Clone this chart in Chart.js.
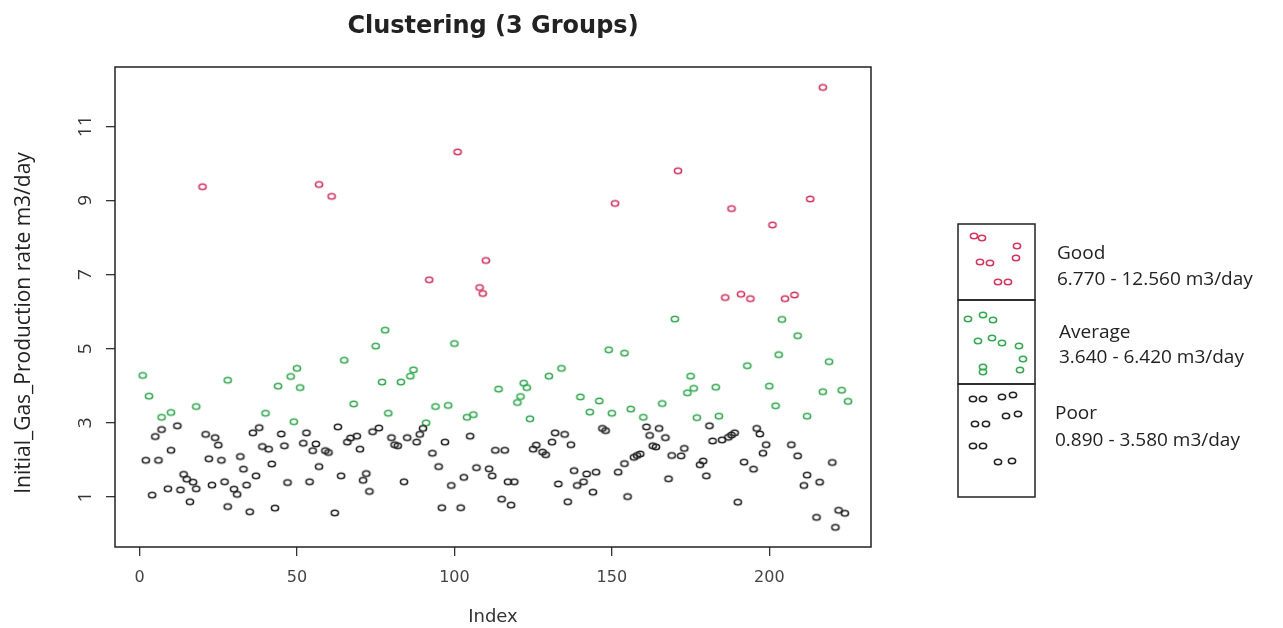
<!DOCTYPE html>
<html lang="en">
<head>
<meta charset="UTF-8">
<title>Clustering (3 Groups)</title>
<script src="https://cdn.jsdelivr.net/npm/chart.js"></script>
<style>
  html, body { margin: 0; padding: 0; background: #fff; }
  #wrap { width: 1283px; height: 628px; }
</style>
</head>
<body>
<div id="wrap"><canvas id="grafico" width="1283" height="628"></canvas></div>
<script>
// index -> Initial_Gas_Production rate, per cluster
const goodIdx = [20, 57, 61, 92, 101, 108, 109, 110, 151, 171, 186, 188, 191, 194, 201, 205, 208, 213, 217];
const goodVal = [9.37, 9.43, 9.11, 6.86, 10.31, 6.65, 6.49, 7.38, 8.92, 9.80, 6.38, 8.78, 6.47, 6.35, 8.34, 6.35, 6.45, 9.04, 12.05];

const avgIdx = [1, 3, 7, 10, 18, 28, 40, 44, 48, 49, 50, 51, 65, 68, 75, 77, 78, 79, 83, 86,
  87, 91, 94, 98, 100, 104, 106, 114, 120, 121, 122, 123, 124, 130, 134, 140, 143, 146, 149, 150,
  154, 156, 160, 166, 170, 174, 175, 176, 177, 183, 184, 193, 200, 202, 203, 204, 209, 212, 217, 219,
  223, 225];
const avgVal = [4.28, 3.72, 3.15, 3.28, 3.44, 4.15, 3.26, 3.99, 4.25, 3.03, 4.47, 3.95, 4.69, 3.51, 5.07, 4.10, 5.50, 3.26, 4.10, 4.26,
  4.43, 3.00, 3.44, 3.47, 5.14, 3.15, 3.22, 3.91, 3.55, 3.71, 4.07, 3.95, 3.11, 4.26, 4.47, 3.70, 3.29, 3.59, 4.97, 3.26,
  4.88, 3.37, 3.15, 3.52, 5.80, 3.81, 4.26, 3.93, 3.14, 3.96, 3.18, 4.54, 3.99, 3.46, 4.84, 5.79, 5.35, 3.18, 3.84, 4.65,
  3.88, 3.58];

const poorIdx = [2, 4, 5, 6, 7, 9, 10, 12, 13, 14, 15, 16, 17, 18, 21, 22, 23, 24, 25, 26,
  27, 28, 30, 31, 32, 33, 34, 35, 36, 37, 38, 39, 41, 42, 43, 45, 46, 47, 52, 53,
  54, 55, 56, 57, 59, 60, 62, 63, 64, 66, 67, 69, 70, 71, 72, 73, 74, 76, 80, 81,
  82, 84, 85, 88, 89, 90, 93, 95, 96, 97, 99, 102, 103, 105, 107, 111, 112, 113, 115, 116,
  117, 118, 119, 125, 126, 128, 129, 131, 132, 133, 135, 136, 137, 138, 139, 141, 142, 144, 145, 147,
  148, 152, 154, 155, 157, 158, 159, 161, 162, 163, 164, 165, 167, 168, 169, 172, 173, 178, 179, 180,
  181, 182, 185, 187, 188, 189, 190, 192, 195, 196, 197, 198, 199, 207, 209, 211, 212, 215, 216, 220,
  221, 222, 224];
const poorVal = [1.99, 1.05, 2.63, 1.99, 2.82, 1.22, 2.26, 2.92, 1.19, 1.61, 1.48, 0.87, 1.40, 1.22, 2.69, 2.03, 1.32, 2.60, 2.40, 1.99,
  1.41, 0.74, 1.21, 1.07, 2.09, 1.75, 1.32, 0.60, 2.73, 1.57, 2.87, 2.36, 2.29, 1.89, 0.70, 2.70, 2.38, 1.39, 2.45, 2.73,
  1.41, 2.25, 2.43, 1.82, 2.25, 2.20, 0.57, 2.89, 1.57, 2.48, 2.59, 2.64, 2.29, 1.45, 1.63, 1.15, 2.76, 2.86, 2.60, 2.41,
  2.38, 1.41, 2.60, 2.48, 2.69, 2.85, 2.18, 1.82, 0.71, 2.48, 1.31, 0.71, 1.53, 2.64, 1.79, 1.76, 1.57, 2.26, 0.94, 2.26,
  1.41, 0.78, 1.41, 2.29, 2.40, 2.21, 2.14, 2.48, 2.73, 1.35, 2.69, 0.87, 2.41, 1.71, 1.31, 1.41, 1.62, 1.13, 1.67, 2.85,
  2.79, 1.67, 1.90, 1.01, 2.07, 2.12, 2.16, 2.89, 2.66, 2.38, 2.35, 2.85, 2.60, 1.49, 2.12, 2.11, 2.31, 1.87, 1.97, 1.57,
  2.92, 2.51, 2.54, 2.61, 2.67, 2.73, 0.86, 1.94, 1.75, 2.85, 2.70, 2.18, 2.41, 2.41, 2.11, 1.31, 1.59, 0.45, 1.40, 1.93,
  0.18, 0.64, 0.56];

const groupNames = ['Good', 'Average', 'Poor'];
const groupRanges = ['6.770 - 12.560 m3/day', '3.640 - 6.420 m3/day', '0.890 - 3.580 m3/day'];
const xTicks = [0, 50, 100, 150, 200];
const yTicks = [1, 3, 5, 7, 9, 11];
const yTitle = 'Initial_Gas_Production rate m3/day';

const colors = { Good: '#cf3760', Average: '#36a852', Poor: '#232323' };

// R's pch = 1, slightly flattened like in the picture
function ring(color) {
  const c = document.createElement('canvas');
  c.width = 12; c.height = 10;
  const g = c.getContext('2d');
  g.strokeStyle = color;
  g.lineWidth = 1.6;
  g.beginPath();
  g.ellipse(6, 5, 3.6, 2.7, 0, 0, Math.PI * 2);
  g.stroke();
  return c;
}

function pares(idx, val) {
  return idx.map((x, i) => ({ x: x, y: val[i] }));
}

// little scatter pictures inside the legend boxes
const legendSpots = {
  Good: [[16, 12], [24, 14], [59, 22], [58, 34], [22, 38], [32, 39], [40, 58], [50, 58]],
  Average: [[10, 19], [25, 15], [35, 20], [20, 41], [34, 38], [44, 43], [61, 46], [25, 67], [25, 72], [65, 59], [62, 70]],
  Poor: [[15, 15], [25, 15], [44, 13], [55, 11], [17, 40], [28, 40], [48, 32], [60, 30], [15, 62], [25, 62], [40, 78], [54, 77]]
};

const decor = {
  id: 'decor',
  afterDraw(chart) {
    const { ctx, chartArea: a, scales } = chart;
    ctx.save();

    // plot frame
    ctx.strokeStyle = '#222';
    ctx.lineWidth = 1.5;
    ctx.strokeRect(a.left, a.top, a.right - a.left, a.bottom - a.top);

    // y tick labels and axis title written sideways, as R does
    ctx.fillStyle = '#333';
    ctx.font = '19px "Open Sans"';
    ctx.textAlign = 'center';
    ctx.textBaseline = 'middle';
    yTicks.forEach(v => {
      const y = scales.y.getPixelForValue(v);
      ctx.save();
      ctx.translate(a.left - 29, y);
      ctx.rotate(-Math.PI / 2);
      ctx.fillText(String(v), 0, 0);
      ctx.restore();
    });
    ctx.save();
    ctx.fillStyle = '#222';
    ctx.font = '21px "Open Sans"';
    ctx.translate(24, 323);
    ctx.rotate(-Math.PI / 2);
    ctx.fillText(yTitle, 0, 0);
    ctx.restore();

    // boxed legend on the right
    const lx = 958, lw = 77;
    const rows = [224, 300, 384, 497];
    const textX = [1057, 1059, 1055];
    const nameY = [254, 333, 414];
    const rangeY = [280, 358, 441];
    ctx.strokeStyle = '#222';
    ctx.lineWidth = 1.5;
    groupNames.forEach((name, i) => {
      const top = rows[i];
      ctx.strokeRect(lx, top, lw, rows[i + 1] - top);
      const img = ring(colors[name]);
      legendSpots[name].forEach(p => {
        ctx.drawImage(img, lx + p[0] - 6, top + p[1] - 5);
      });
      ctx.fillStyle = '#222';
      ctx.font = '19px "Open Sans"';
      ctx.textAlign = 'left';
      ctx.fillText(name, textX[i], nameY[i]);
      ctx.fillText(groupRanges[i], textX[i], rangeY[i]);
    });
    ctx.restore();
  }
};

const axisGrid = { drawOnChartArea: false, drawTicks: true, tickLength: 9, color: '#333', lineWidth: 1.3 };

new Chart(document.getElementById('grafico'), {
  type: 'scatter',
  data: {
    datasets: [
      { label: 'Poor', data: pares(poorIdx, poorVal), pointStyle: ring(colors.Poor) },
      { label: 'Average', data: pares(avgIdx, avgVal), pointStyle: ring(colors.Average) },
      { label: 'Good', data: pares(goodIdx, goodVal), pointStyle: ring(colors.Good) }
    ]
  },
  options: {
    responsive: false,
    animation: false,
    devicePixelRatio: 1,
    layout: { padding: { left: 0, right: 412, top: 0, bottom: 0 } },
    plugins: {
      legend: { display: false },
      tooltip: { enabled: false },
      title: {
        display: true,
        text: 'Clustering (3 Groups)',
        fullSize: false,
        color: '#222',
        font: { family: 'DejaVu Sans', size: 24, weight: 'bold' },
        padding: { top: 12.6, bottom: 25.6 }
      }
    },
    scales: {
      x: {
        type: 'linear',
        min: -7.8,
        max: 232.3,
        afterBuildTicks: s => { s.ticks = xTicks.map(v => ({ value: v })); },
        afterFit: s => { s.height = 81; },
        grid: axisGrid,
        border: { display: false },
        ticks: { padding: 12, color: '#444', maxRotation: 0, autoSkip: false,
                 font: { family: 'DejaVu Sans', size: 16 } },
        title: { display: true, text: 'Index', color: '#333',
                 font: { family: 'DejaVu Sans', size: 18 }, padding: { top: 0, bottom: 0 } }
      },
      y: {
        type: 'linear',
        min: -0.35,
        max: 12.6,
        afterBuildTicks: s => { s.ticks = yTicks.map(v => ({ value: v })); },
        afterFit: s => { s.width = 115; },
        grid: axisGrid,
        border: { display: false },
        ticks: { display: false }
      }
    }
  },
  plugins: [decor]
});
</script>
</body>
</html>
